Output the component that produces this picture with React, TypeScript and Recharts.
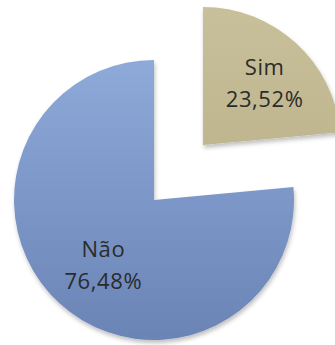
import { PieChart, Pie, Cell } from "recharts";

const categories = ["Sim", "Não"];
const shares = [23.52, 76.48];

const data = categories.map((name, i) => ({ name, value: shares[i] }));

const fmt = (v: number) => v.toFixed(2).replace(".", ",") + "%";

const RAD = Math.PI / 180;

// draws the label only for the slice that this pie actually shows
const makeLabel = (shown: number, frac: number, sx: number, sy: number) => (props: any) => {
  const { cx, cy, midAngle, outerRadius, index, name, value } = props;
  if (index !== shown) return null;
  const r = outerRadius * frac;
  const x = cx + r * Math.cos(-midAngle * RAD) + sx;
  const y = cy + r * Math.sin(-midAngle * RAD) + sy;
  return (
    <text x={x} y={y} textAnchor="middle" fill="#2b2b2b" fontSize={22} letterSpacing={0.6} fontFamily="'Open Sans', sans-serif">
      <tspan x={x} dy={-10}>{name}</tspan>
      <tspan x={x} dy={32}>{fmt(value)}</tspan>
    </text>
  );
};

export default function App() {
  return (
    <div style={{ position: "absolute", left: 0, top: 0, width: 335, height: 345, background: "#fff" }}>
      <PieChart width={335} height={345} margin={{ top: 0, right: 0, bottom: 0, left: 0 }}>
        <defs>
          <linearGradient id="gradNao" x1="0" y1="0" x2="0" y2="1">
            <stop offset="0%" stopColor="#8eaad9" />
            <stop offset="100%" stopColor="#6a84b5" />
          </linearGradient>
          <linearGradient id="gradSim" x1="0" y1="0" x2="0" y2="1">
            <stop offset="0%" stopColor="#c8c09b" />
            <stop offset="100%" stopColor="#bfb68f" />
          </linearGradient>
          <filter id="shadow" x="-10%" y="-10%" width="130%" height="130%">
            <feDropShadow dx="1" dy="3" stdDeviation="2" floodColor="#000" floodOpacity="0.25" />
          </filter>
        </defs>
        <Pie
          data={data}
          dataKey="value"
          nameKey="name"
          cx={154}
          cy={200}
          outerRadius={140}
          startAngle={90}
          endAngle={-270}
          stroke="none"
          labelLine={false}
          label={makeLabel(1, 0.58, 4, 7)}
          isAnimationActive={false}
        >
          <Cell fill="none" />
          <Cell fill="url(#gradNao)" filter="url(#shadow)" />
        </Pie>
        <Pie
          data={data}
          dataKey="value"
          nameKey="name"
          cx={203}
          cy={145}
          outerRadius={138}
          startAngle={90}
          endAngle={-270}
          stroke="none"
          labelLine={false}
          label={makeLabel(0, 0.62, 4, 3)}
          isAnimationActive={false}
        >
          <Cell fill="url(#gradSim)" filter="url(#shadow)" />
          <Cell fill="none" />
        </Pie>
      </PieChart>
    </div>
  );
}
